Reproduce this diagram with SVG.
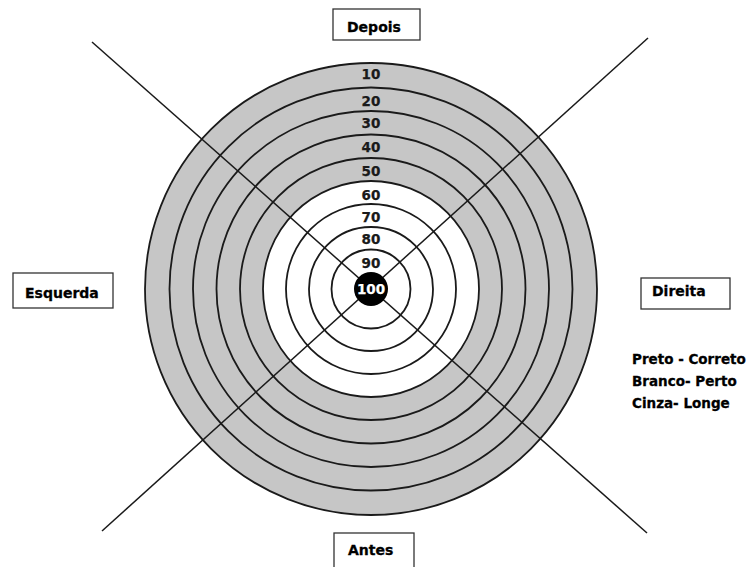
<svg xmlns="http://www.w3.org/2000/svg" width="752" height="567" viewBox="0 0 752 567">
<style>
.ring{fill:none;stroke:#1a1a1a;stroke-width:1.8}
.axis{stroke:#1a1a1a;stroke-width:1.5}
.box{fill:#fff;stroke:#333;stroke-width:1.3}
.lbl{font-family:"DejaVu Sans",Verdana,sans-serif;font-weight:bold;font-size:14px;fill:#000;stroke:#000;stroke-width:0.3}
.num{font-family:"DejaVu Sans",Verdana,sans-serif;font-weight:bold;font-size:13.5px;fill:#1a1a1a;stroke:#1a1a1a;stroke-width:0.25;text-anchor:middle}
.leg{font-family:"DejaVu Sans",Verdana,sans-serif;font-weight:bold;font-size:13.5px;fill:#000;stroke:#000;stroke-width:0.3}
</style>
<rect width="752" height="567" fill="#fff"/>
<g id="target">
<circle cx="371" cy="289" r="226" fill="#c6c6c6"/>
<circle cx="371" cy="289" r="108" fill="#fff"/>
<circle class="ring" cx="371" cy="289" r="226"/>
<circle class="ring" cx="371" cy="289" r="201.5"/>
<circle class="ring" cx="371" cy="289" r="178"/>
<circle class="ring" cx="371" cy="289" r="154.5"/>
<circle class="ring" cx="371" cy="289" r="131"/>
<circle class="ring" cx="371" cy="289" r="108"/>
<circle class="ring" cx="371" cy="289" r="85"/>
<circle class="ring" cx="371" cy="289" r="62"/>
<circle class="ring" cx="371" cy="289" r="39.5"/>
</g>
<g id="connectors">
<line class="axis" x1="92" y1="42" x2="647" y2="533"/>
<line class="axis" x1="648" y1="38" x2="102" y2="531"/>
</g>
<g id="bullseye">
<circle cx="371" cy="289" r="17" fill="#000"/>
<text class="num" x="371" y="294" style="fill:#fff;stroke:#fff">100</text>
</g>
<g id="numbers">
<text class="num" x="371" y="79">10</text>
<text class="num" x="371" y="105.5">20</text>
<text class="num" x="371" y="127.5">30</text>
<text class="num" x="371" y="152">40</text>
<text class="num" x="371" y="175.5">50</text>
<text class="num" x="371" y="199.5">60</text>
<text class="num" x="371" y="221.5">70</text>
<text class="num" x="371" y="244">80</text>
<text class="num" x="371" y="268">90</text>
</g>
<g id="depois">
<rect class="box" x="333" y="9" width="87" height="31"/>
<text class="lbl" x="347" y="32">Depois</text>
</g>
<g id="esquerda">
<rect class="box" x="13" y="273" width="100" height="35"/>
<text class="lbl" x="25" y="298">Esquerda</text>
</g>
<g id="direita">
<rect class="box" x="641" y="278" width="89" height="31"/>
<text class="lbl" x="652" y="296">Direita</text>
</g>
<g id="antes">
<rect class="box" x="334" y="533" width="80" height="40"/>
<text class="lbl" x="348" y="555">Antes</text>
</g>
<g id="legend">
<text class="leg" x="632" y="364">Preto - Correto</text>
<text class="leg" x="632" y="386">Branco- Perto</text>
<text class="leg" x="632" y="408">Cinza- Longe</text>
</g>
</svg>
